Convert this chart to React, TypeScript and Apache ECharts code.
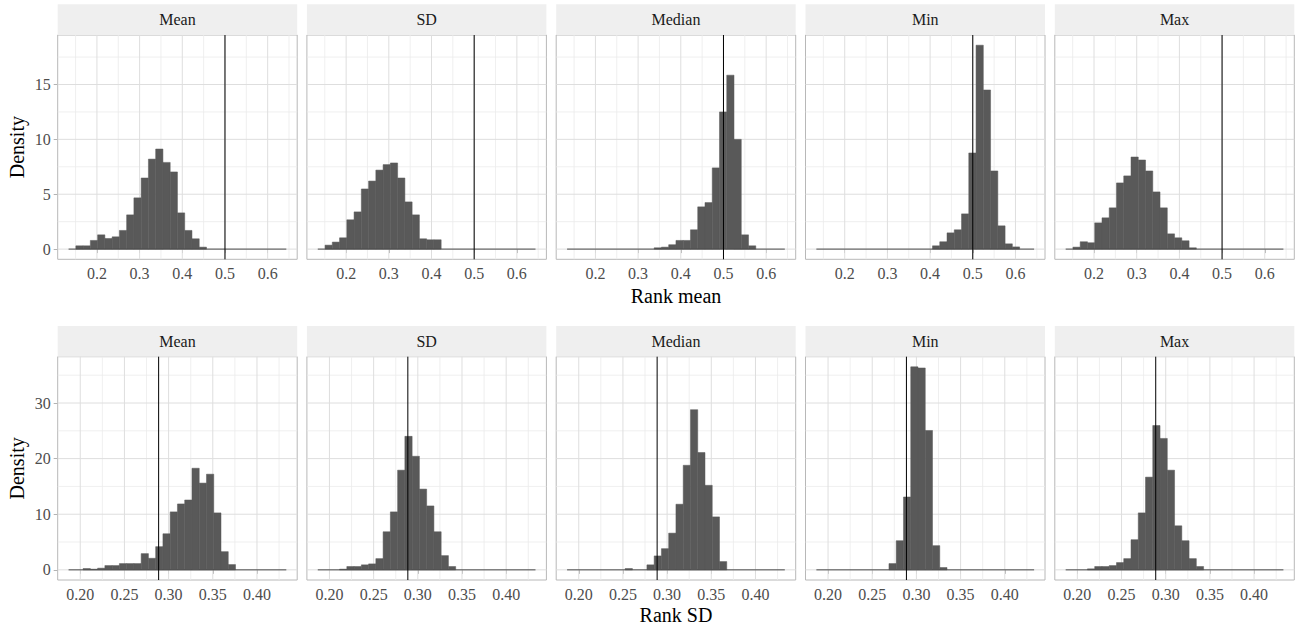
import React, { useEffect, useRef } from "react";
import * as echarts from "echarts";

// ---------- data ----------
const panels = ["Mean", "SD", "Median", "Min", "Max"];

// Top row: Rank mean. Densities of 30 equal bins spanning rankMeanBinRange.
const rankMeanBinRange = [0.1336, 0.6437];
const rankMeanRef = 0.5;
const rankMeanXTicks = [0.2, 0.3, 0.4, 0.5, 0.6];
const rankMeanXMinor = [0.15, 0.25, 0.35, 0.45, 0.55, 0.65];
const rankMeanYTicks = [0, 5, 10, 15];
const rankMeanYMinor = [2.5, 7.5, 12.5, 17.5];

const rankMeanMean = [0, 0.3, 0.3, 0.79, 1.3, 0.97, 1.12, 1.7, 3.12, 4.67, 6.48, 8.2, 9.12, 7.9, 7.03, 3.3, 1.7, 0.94, 0.18, 0, 0, 0, 0, 0, 0, 0, 0, 0, 0, 0];
const rankMeanSD = [0, 0.36, 0.64, 1.03, 2.67, 3.39, 5.48, 6.2, 7.2, 7.7, 7.85, 6.48, 4.3, 3.12, 0.94, 0.85, 0.85, 0, 0, 0, 0, 0, 0, 0, 0, 0, 0, 0, 0, 0];
const rankMeanMedian = [0, 0, 0, 0, 0, 0, 0, 0, 0, 0, 0, 0, 0.12, 0.18, 0.4, 0.79, 0.79, 1.76, 3.85, 4.24, 7.4, 12.5, 15.85, 10.0, 1.3, 0.3, 0, 0, 0, 0];
const rankMeanMin = [0, 0, 0, 0, 0, 0, 0, 0, 0, 0, 0, 0, 0, 0, 0, 0, 0.3, 0.67, 1.48, 1.76, 3.21, 8.76, 18.58, 14.5, 7.12, 2.12, 0.48, 0.2, 0, 0];
const rankMeanMax = [0, 0.18, 0.67, 0.58, 2.39, 2.85, 3.76, 6.03, 6.67, 8.39, 8.12, 7.12, 5.21, 3.76, 1.39, 1.03, 0.76, 0.12, 0, 0, 0, 0, 0, 0, 0, 0, 0, 0, 0, 0];

// Bottom row: Rank SD.
const rankSDBinRange = [0.1868, 0.4332];
const rankSDRef = 0.2887;
const rankSDXTicks = [0.2, 0.25, 0.3, 0.35, 0.4];
const rankSDXMinor = [0.225, 0.275, 0.325, 0.375, 0.425];
const rankSDYTicks = [0, 10, 20, 30];
const rankSDYMinor = [5, 15, 25, 35];

const rankSDMean = [0, 0, 0.24, 0.12, 0.3, 0.77, 0.77, 1.13, 1.13, 1.13, 2.92, 2.08, 4.17, 6.49, 10.42, 11.85, 12.56, 18.27, 15.6, 17.2, 10.24, 3.27, 0.95, 0, 0, 0, 0, 0, 0, 0];
const rankSDSD = [0, 0, 0, 0.12, 0.6, 0.6, 0.9, 1.07, 2.02, 6.85, 10.42, 17.92, 24.0, 20.42, 14.52, 11.49, 6.85, 2.56, 0.6, 0, 0, 0, 0, 0, 0, 0, 0, 0, 0, 0];
const rankSDMedian = [0, 0, 0, 0, 0, 0, 0, 0, 0.24, 0, 0, 0.9, 2.5, 3.81, 6.6, 11.8, 18.8, 28.8, 21.1, 15.2, 9.52, 1.49, 0, 0, 0, 0, 0, 0, 0, 0];
const rankSDMin = [0, 0, 0, 0, 0, 0, 0, 0, 0, 0, 1.13, 5.24, 13.1, 36.5, 36.3, 25.06, 4.35, 0.42, 0, 0, 0, 0, 0, 0, 0, 0, 0, 0, 0, 0];
const rankSDMax = [0, 0, 0, 0.18, 0.6, 0.6, 0.77, 1.31, 2.02, 5.42, 10.24, 16.67, 25.95, 23.63, 17.92, 7.92, 5.24, 2.02, 0.6, 0, 0, 0, 0, 0, 0, 0, 0, 0, 0, 0];

// ---------- layout / style ----------
const FONT = "'Liberation Serif', 'DejaVu Serif', serif";
const PANEL_LEFT = [57.7, 306.9, 556.2, 805.5, 1054.8];
const PANEL_W = 239.5;
const ROWS_LAYOUT = [
  { top: 35, height: 224.3, stripTop: 4.3, titleY: 296 },
  { top: 356.7, height: 223.3, stripTop: 326, titleY: 615 },
];
const STRIP_H = 30.7;

const rows = [
  {
    title: "Rank mean",
    binRange: rankMeanBinRange,
    ref: rankMeanRef,
    hists: [rankMeanMean, rankMeanSD, rankMeanMedian, rankMeanMin, rankMeanMax],
    xTicks: rankMeanXTicks,
    xMinor: rankMeanXMinor,
    yTicks: rankMeanYTicks,
    yMinor: rankMeanYMinor,
    decimals: 1,
  },
  {
    title: "Rank SD",
    binRange: rankSDBinRange,
    ref: rankSDRef,
    hists: [rankSDMean, rankSDSD, rankSDMedian, rankSDMin, rankSDMax],
    xTicks: rankSDXTicks,
    xMinor: rankSDXMinor,
    yTicks: rankSDYTicks,
    yMinor: rankSDYMinor,
    decimals: 2,
  },
];

function buildOption() {
  const grid: any[] = [];
  const xAxis: any[] = [];
  const yAxis: any[] = [];
  const series: any[] = [];
  const graphic: any[] = [];

  rows.forEach((row, r) => {
    const L = ROWS_LAYOUT[r];
    const [lo, hi] = row.binRange;
    const nb = row.hists[0].length;
    const bw = (hi - lo) / nb;
    const xExp = 0.05 * (hi - lo);
    const yMaxData = Math.max(...row.hists.map((h) => Math.max(...h)));
    const yMin = -0.05 * yMaxData;
    const yMax = 1.05 * yMaxData;

    row.hists.forEach((hist, c) => {
      const gi = grid.length;
      grid.push({
        left: PANEL_LEFT[c],
        top: L.top,
        width: PANEL_W,
        height: L.height,
        show: true,
        borderColor: "#b8b8b8",
        borderWidth: 1,
        backgroundColor: "#ffffff",
        outerBoundsMode: "none",
        containLabel: false,
      });
      xAxis.push({
        gridIndex: gi,
        type: "value",
        min: lo - xExp,
        max: hi + xExp,
        axisLine: { show: false },
        splitLine: { show: false },
        axisTick: { show: true, customValues: row.xTicks, length: 4, lineStyle: { color: "#b3b3b3" } },
        axisLabel: {
          customValues: row.xTicks,
          formatter: (v: number) => v.toFixed(row.decimals),
          color: "#4d4d4d",
          fontSize: 16,
          fontFamily: FONT,
          margin: 6,
        },
      });
      yAxis.push({
        gridIndex: gi,
        type: "value",
        min: yMin,
        max: yMax,
        axisLine: { show: false },
        splitLine: { show: false },
        axisTick: { show: c === 0, customValues: row.yTicks, length: 4, lineStyle: { color: "#b3b3b3" } },
        axisLabel: {
          show: c === 0,
          customValues: row.yTicks,
          color: "#4d4d4d",
          fontSize: 16,
          fontFamily: FONT,
          margin: 7,
        },
      });

      // grid lines
      const gl: any[] = [];
      row.xMinor.forEach((v) => gl.push([v, 1, 0]));
      row.yMinor.forEach((v) => gl.push([v, 0, 0]));
      row.xTicks.forEach((v) => gl.push([v, 1, 1]));
      row.yTicks.forEach((v) => gl.push([v, 0, 1]));
      series.push({
        type: "custom",
        xAxisIndex: gi,
        yAxisIndex: gi,
        z: 1,
        silent: true,
        data: gl,
        renderItem: (params: any, api: any) => {
          const v = api.value(0);
          const isX = api.value(1) === 1;
          const major = api.value(2) === 1;
          const cs = params.coordSys;
          const stroke = major ? "#dedede" : "#ebebeb";
          const lw = major ? 1 : 0.8;
          if (isX) {
            const p = api.coord([v, 0]);
            if (p[0] < cs.x || p[0] > cs.x + cs.width) return null;
            return { type: "line", shape: { x1: p[0], y1: cs.y, x2: p[0], y2: cs.y + cs.height }, style: { stroke, lineWidth: lw } };
          }
          const p = api.coord([lo, v]);
          if (p[1] < cs.y || p[1] > cs.y + cs.height) return null;
          return { type: "line", shape: { x1: cs.x, y1: p[1], x2: cs.x + cs.width, y2: p[1] }, style: { stroke, lineWidth: lw } };
        },
      });

      // histogram bars
      const bars = hist
        .map((d, i) => [lo + i * bw, lo + (i + 1) * bw, d])
        .filter((b) => b[2] > 0);
      series.push({
        type: "custom",
        xAxisIndex: gi,
        yAxisIndex: gi,
        z: 2,
        silent: true,
        encode: { x: [0, 1], y: 2 },
        data: bars,
        renderItem: (params: any, api: any) => {
          const p0 = api.coord([api.value(0), 0]);
          const p1 = api.coord([api.value(1), api.value(2)]);
          return {
            type: "rect",
            shape: { x: p0[0], y: p1[1], width: p1[0] - p0[0], height: p0[1] - p1[1] },
            style: { fill: "#595959", stroke: "#595959", lineWidth: 0.5 },
          };
        },
      });

      // baseline over the full bin range
      series.push({
        type: "line",
        xAxisIndex: gi,
        yAxisIndex: gi,
        z: 3,
        silent: true,
        symbol: "none",
        data: [[lo, 0], [hi, 0]],
        lineStyle: { color: "#4a4a4a", width: 1 },
      });

      // reference line
      series.push({
        type: "custom",
        xAxisIndex: gi,
        yAxisIndex: gi,
        z: 4,
        silent: true,
        data: [[row.ref]],
        renderItem: (params: any, api: any) => {
          const cs = params.coordSys;
          const p = api.coord([api.value(0), 0]);
          return { type: "line", shape: { x1: p[0], y1: cs.y, x2: p[0], y2: cs.y + cs.height }, style: { stroke: "#000000", lineWidth: 1 } };
        },
      });

      // strip
      graphic.push({
        type: "rect",
        shape: { x: PANEL_LEFT[c], y: L.stripTop, width: PANEL_W, height: STRIP_H },
        style: { fill: "#efefef" },
        silent: true,
      });
      graphic.push({
        type: "text",
        x: PANEL_LEFT[c] + PANEL_W / 2,
        y: L.stripTop + STRIP_H / 2,
        style: { text: panels[c], fill: "#1a1a1a", font: `16px ${FONT}`, textAlign: "center", textVerticalAlign: "middle" },
        silent: true,
      });
    });

    // axis titles
    graphic.push({
      type: "text",
      x: (PANEL_LEFT[0] + PANEL_LEFT[4] + PANEL_W) / 2,
      y: L.titleY,
      style: { text: row.title, fill: "#000000", font: `20px ${FONT}`, textAlign: "center", textVerticalAlign: "middle" },
      silent: true,
    });
    graphic.push({
      type: "text",
      x: 17,
      y: L.top + L.height / 2,
      rotation: Math.PI / 2,
      style: { text: "Density", fill: "#000000", font: `20px ${FONT}`, textAlign: "center", textVerticalAlign: "middle" },
      silent: true,
    });
  });

  return {
    animation: false,
    backgroundColor: "#ffffff",
    grid,
    xAxis,
    yAxis,
    series,
    graphic,
  };
}

export default function App() {
  const ref = useRef<HTMLDivElement>(null);
  useEffect(() => {
    if (!ref.current) return;
    const chart = echarts.init(ref.current, undefined, { renderer: "svg" });
    chart.setOption(buildOption() as any);
    return () => chart.dispose();
  }, []);
  return <div ref={ref} style={{ position: "fixed", left: 0, top: 0, width: 1296, height: 627 }} />;
}
